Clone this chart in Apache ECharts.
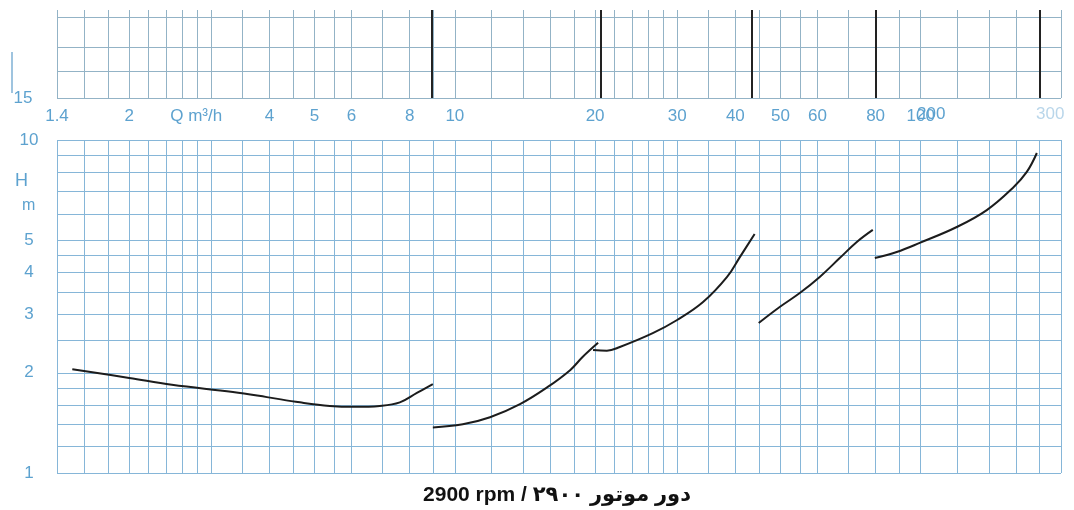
<!DOCTYPE html>
<html><head><meta charset="utf-8">
<script src="https://cdn.jsdelivr.net/npm/echarts@6/dist/echarts.min.js"></script>
<style>html,body{margin:0;padding:0;background:#fff}#c{width:1074px;height:510px}</style>
</head><body><div id="c"></div>
<script>
// ---- axis grid / tick values ----
const flowGridValues = [1.4,1.6,1.8,2,2.2,2.4,2.6,2.8,3,3.5,4,4.5,5,5.5,6,7,8,9,10,12,14,16,18,20,22,24,26,28,30,35,40,45,50,55,60,70,80,90,100,120,140,160,180,200];
const flowLabelValues = [1.4,2,3,4,5,6,8,10,20,30,40,50,60,80,100];
const headGridValues = [1,1.2,1.4,1.6,1.8,2,2.5,3,3.5,4,4.5,5,6,7,8,9,10];
const headLabelValues = [1,2,3,4,5,10];
const upperHeadGridValues = [15,18,21.3,26.2];
const upperHeadLabelValues = [15];
const modelBoundaries = [8.9,20.6,43.4,80,180];

// ---- pump curves (Q m3/h , H m) ----
const curve1Q = [1.51,2.0,2.47,3.34,3.95,4.65,5.39,6.10,6.90,7.62,8.29,8.97];
const curve1H = [2.05,1.93,1.84,1.75,1.69,1.63,1.59,1.58,1.59,1.63,1.74,1.85];
const curve2Q = [8.97,10.4,11.9,13.8,15.8,17.7,18.8,20.3];
const curve2H = [1.37,1.40,1.47,1.61,1.81,2.04,2.23,2.46];
const curve3Q = [19.8,21.2,22.6,26.6,30.0,34.1,38.4,40.9,44.0];
const curve3H = [2.34,2.33,2.39,2.63,2.88,3.26,3.88,4.45,5.22];
const curve4Q = [44.9,49.8,55.0,60.7,67.0,72.9,78.9];
const curve4H = [2.82,3.15,3.47,3.88,4.42,4.94,5.37];
const curve5Q = [79.7,88.8,99.5,119.5,138.6,157.6,168.9,177.5];
const curve5H = [4.42,4.61,4.91,5.48,6.16,7.18,8.02,9.14];

const pair = (q, h) => q.map((v, i) => [v, h[i]]);
const gridColor = '#86b6d8';
const labelColor = '#5da2cf';
const curveStyle = { color: '#1c1c1c', width: 2 };
const labelFont = 'Liberation Sans, Arial, sans-serif';

const chart = echarts.init(document.getElementById('c'));
const curves = [[curve1Q,curve1H],[curve2Q,curve2H],[curve3Q,curve3H],[curve4Q,curve4H],[curve5Q,curve5H]];

const option = {
  animation: false,
  backgroundColor: '#ffffff',
  grid: [
    { left: 57, right: 13, top: 10, height: 88 },
    { left: 57, right: 13, top: 140, bottom: 37 }
  ],
  xAxis: [
    { gridIndex: 0, type: 'log', min: 1.4, max: 200,
      axisLine: { show: false }, axisTick: { show: false, customValues: flowGridValues },
      axisLabel: { show: false },
      splitLine: { show: true, lineStyle: { color: '#93b3c6', width: 1 } } },
    { gridIndex: 1, type: 'log', min: 1.4, max: 200, position: 'top',
      axisLine: { show: false }, axisTick: { show: false, customValues: flowGridValues },
      axisLabel: { show: true, customValues: flowLabelValues, color: labelColor, fontSize: 17,
        fontFamily: labelFont, margin: 15,
        formatter: v => (Math.abs(v - 3) < 1e-9 ? '{q|Q m³/h}' : String(+v.toFixed(2))),
        rich: { q: { color: labelColor, fontSize: 17, fontFamily: labelFont, padding: [0, 30, 0, 0] } } },
      splitLine: { show: true, lineStyle: { color: gridColor, width: 1 } } }
  ],
  yAxis: [
    { gridIndex: 0, type: 'log', min: 15, max: 27.6,
      axisLine: { show: false }, axisTick: { show: false, customValues: upperHeadGridValues },
      axisLabel: { show: true, customValues: upperHeadLabelValues, color: labelColor, fontSize: 17,
        fontFamily: labelFont, align: 'center', margin: 34 },
      splitLine: { show: true, lineStyle: { color: '#93b3c6', width: 1 } } },
    { gridIndex: 1, type: 'log', min: 1, max: 10,
      axisLine: { show: false }, axisTick: { show: false, customValues: headGridValues },
      axisLabel: { show: true, customValues: headLabelValues, color: labelColor, fontSize: 17,
        fontFamily: labelFont, align: 'center', margin: 28 },
      splitLine: { show: true, lineStyle: { color: gridColor, width: 1 } } }
  ],
  series: [
    { type: 'line', xAxisIndex: 0, yAxisIndex: 0, data: [], silent: true,
      markLine: { silent: true, symbol: 'none', label: { show: false },
        lineStyle: { color: '#222', width: 2, type: 'solid' },
        data: modelBoundaries.map(v => ({ xAxis: v })) } }
  ].concat(curves.map(c => ({
    type: 'line', xAxisIndex: 1, yAxisIndex: 1, smooth: 0.4, showSymbol: false,
    lineStyle: curveStyle, data: pair(c[0], c[1])
  }))),
  graphic: [
    { type: 'text', left: 15, top: 172, style: { text: 'H', fill: labelColor, font: '18px ' + labelFont } },
    { type: 'text', left: 22, top: 198, style: { text: 'm', fill: labelColor, font: '16px ' + labelFont } },
    { type: 'text', left: 917, top: 106, style: { text: '200', fill: labelColor, font: '17px ' + labelFont } },
    { type: 'text', left: 1036, top: 106, style: { text: '300', fill: '#b9d6ea', font: '17px ' + labelFont } },
    { type: 'line', shape: { x1: 12, y1: 52, x2: 12, y2: 93 }, style: { stroke: '#7fb0d4', lineWidth: 1.5 } },
    { type: 'text', x: 557, y: 495, style: { text: '2900 rpm / دور موتور ۲۹۰۰', fill: '#111',
        font: 'bold 21px Liberation Sans, DejaVu Sans, sans-serif', align: 'center', verticalAlign: 'middle' } }
  ]
};
chart.setOption(option);
</script></body></html>
